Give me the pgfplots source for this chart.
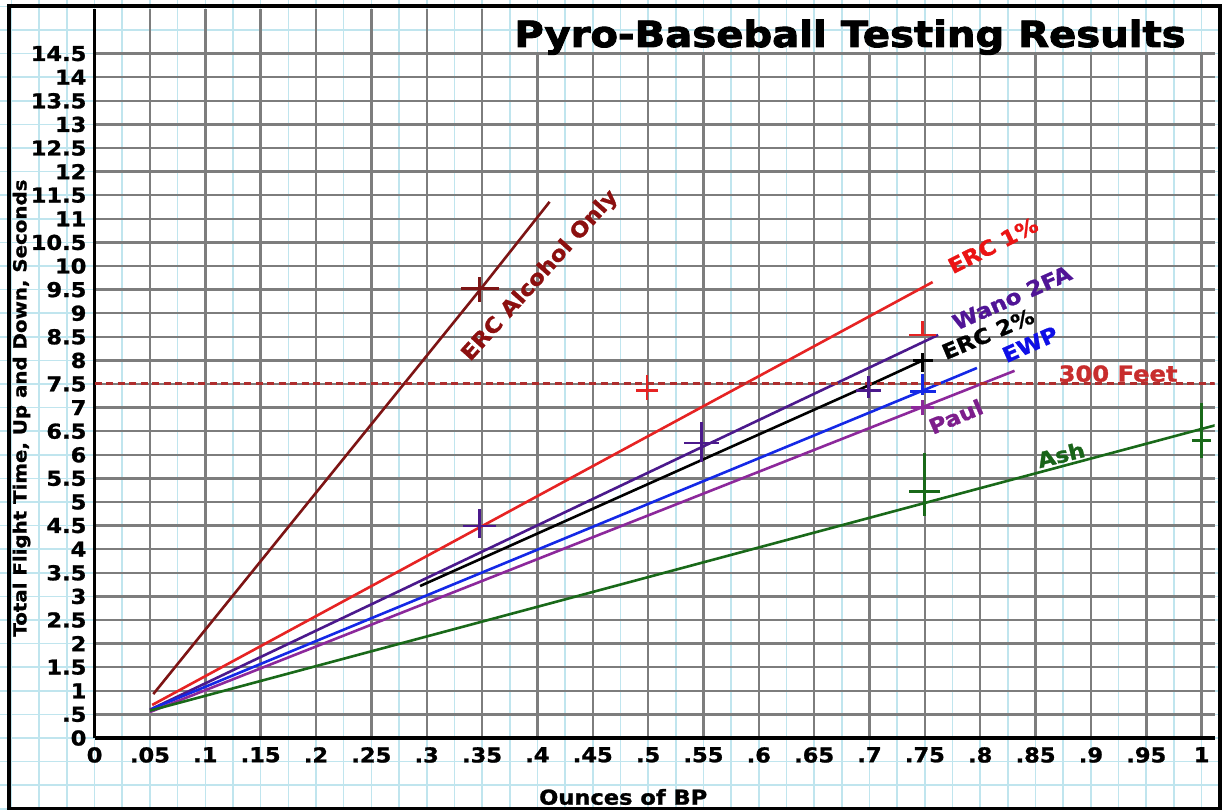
\documentclass[border=0pt]{standalone}
\usepackage{pgfplots}
\pgfplotsset{compat=1.18}
\usetikzlibrary{plotmarks}
\usepackage{fontspec}
\newfontfamily\wb{DejaVu Sans}[FakeStretch=1.1, FakeBold=1.2]
\newfontfamily\heavy{DejaVu Sans}[FakeStretch=1.115, FakeBold=2.6]
\newcommand\fs[1]{\fontsize{#1}{#1}\selectfont}
\definecolor{paper}{RGB}{192,229,238}
\definecolor{gridg}{RGB}{125,125,125}
\definecolor{alc}{RGB}{125,20,20}
\definecolor{alcT}{RGB}{140,15,15}
\definecolor{erc}{RGB}{230,35,35}
\definecolor{ercT}{RGB}{235,20,20}
\definecolor{wano}{RGB}{75,25,140}
\definecolor{wanoT}{RGB}{80,20,150}
\definecolor{ewp}{RGB}{20,40,230}
\definecolor{ewpT}{RGB}{15,15,230}
\definecolor{paul}{RGB}{140,40,155}
\definecolor{paulT}{RGB}{125,30,140}
\definecolor{ash}{RGB}{25,105,25}
\definecolor{ashT}{RGB}{25,100,25}
\definecolor{feet}{RGB}{175,45,45}
\definecolor{feetT}{RGB}{200,45,45}
\newcommand\papergrid{%
  \foreach \k in {-3,...,40} \draw[paper, line width=1.6pt] ({94.6pt+\k*27.675pt},0pt) -- ({94.6pt+\k*27.675pt},-810pt);
  \foreach \k in {-3,...,31} \draw[paper, line width=1.6pt] (0pt,{-738pt+\k*23.6pt}) -- (1222pt,{-738pt+\k*23.6pt});
}
% color, x, y(horizontal bar), half width, y(vertical bar), half height
\newcommand\pmark[6]{%
  \addplot[#1, only marks, mark=-, mark size=#4pt, mark options={line width=2.8pt}] coordinates {(#2,#3)};
  \addplot[#1, only marks, mark=|, mark size=#6pt, mark options={line width=2.8pt}] coordinates {(#2,#5)};
}
\begin{document}
\begin{tikzpicture}
\fill[white] (0,0) rectangle (1222pt,-810pt);
\papergrid
\begin{axis}[
  at={(94.6pt,-738pt)}, anchor=south west,
  scale only axis, width=1120pt, height=729.2pt,
  xmin=0, xmax=1.0117, ymin=0, ymax=15.45,
  axis lines=left,
  x axis line style={-}, y axis line style={-},
  axis line style={line width=3.5pt, black},
  xtick={0,0.05,0.1,0.15,0.2,0.25,0.3,0.35,0.4,0.45,0.5,0.55,0.6,0.65,0.7,0.75,0.8,0.85,0.9,0.95,1},
  xticklabels={0,.05,.1,.15,.2,.25,.3,.35,.4,.45,.5,.55,.6,.65,.7,.75,.8,.85,.9,.95,1},
  ytick={0,0.5,1,1.5,2,2.5,3,3.5,4,4.5,5,5.5,6,6.5,7,7.5,8,8.5,9,9.5,10,10.5,11,11.5,12,12.5,13,13.5,14,14.5},
  yticklabels={0,.5,1,1.5,2,2.5,3,3.5,4,4.5,5,5.5,6,6.5,7,7.5,8,8.5,9,9.5,10,10.5,11,11.5,12,12.5,13,13.5,14,14.5},
  /pgf/number format/assume math mode=true,
  ticklabel style={font=\wb\bfseries\fs{20.5}, black, inner sep=3pt},
  yticklabel style={xshift=-5pt},
  xticklabel style={yshift=-6pt},
  major tick length=0pt,
  grid=major,
  major grid style={line width=2.4pt, gridg},
  clip mode=individual,
]
% lines
\addplot[alc, line width=2.6pt] coordinates {(0.053,0.93) (0.35,9.55) (0.411,11.36)};
\addplot[erc, line width=2.6pt] coordinates {(0.052,0.70) (0.35,4.49) (0.757,9.66)};
\addplot[wano, line width=2.6pt] coordinates {(0.05,0.60) (0.55,6.18) (0.762,8.54)};
\addplot[ewp, line width=2.6pt] coordinates {(0.052,0.62) (0.75,7.38) (0.797,7.84)};
\addplot[paul, line width=2.6pt] coordinates {(0.05,0.55) (0.75,7.03) (0.831,7.78)};
\addplot[black, line width=2.6pt] coordinates {(0.294,3.22) (0.7,7.48) (0.748,8.0)};
\addplot[ash, line width=2.6pt] coordinates {(0.05,0.58) (0.75,4.98) (1.013,6.63)};
\addplot[feet, line width=3pt, dash pattern=on 7pt off 4.5pt] coordinates {(0,7.52) (1.0117,7.52)};
% marks
\pmark{alc}{0.348}{9.53}{19}{9.50}{12.5}
\pmark{wano}{0.348}{4.49}{16.5}{4.545}{14.5}
\pmark{erc}{0.499}{7.37}{11}{7.43}{12.5}
\pmark{wano}{0.548}{6.25}{17.5}{6.27}{20}
\pmark{wano}{0.699}{7.37}{12.5}{7.43}{11}
\pmark{erc}{0.748}{8.54}{13.5}{8.69}{7}
\pmark{black}{0.748}{7.99}{10}{7.96}{9.5}
\pmark{ewp}{0.748}{7.35}{13}{7.49}{10.5}
\pmark{paul}{0.748}{7.01}{11.5}{7.00}{7.5}
\pmark{ash}{0.750}{5.23}{15.5}{5.37}{31.5}
\pmark{ash}{1.0}{6.31}{9.5}{6.51}{27.5}
% labels
\node[font=\wb\bfseries\fs{21}, text=alcT, rotate=48, inner sep=0pt] at (axis cs:0.4025,9.79) {ERC Alcohol Only};
\node[font=\wb\bfseries\fs{21}, text=ercT, rotate=27, inner sep=0pt] at (axis cs:0.8116,10.44) {ERC 1\%};
\node[font=\wb\bfseries\fs{21}, text=wanoT, rotate=24, inner sep=0pt] at (axis cs:0.8287,9.33) {Wano 2FA};
\node[font=\wb\bfseries\fs{21}, text=black, rotate=23, inner sep=0pt] at (axis cs:0.807,8.56) {ERC 2\%};
\node[font=\wb\bfseries\fs{21}, text=ewpT, rotate=24, inner sep=0pt] at (axis cs:0.845,8.34) {EWP};
\node[font=\wb\bfseries\fs{22}, text=feetT, inner sep=0pt] at (axis cs:0.9245,7.72) {300 Feet};
\node[font=\wb\bfseries\fs{21}, text=paulT, rotate=23, inner sep=0pt] at (axis cs:0.778,6.81) {Paul};
\node[font=\wb\bfseries\fs{21}, text=ashT, rotate=14, inner sep=0pt] at (axis cs:0.873,6.0) {Ash};
\node[font=\wb\bfseries\fs{20.5}] at (axis cs:0.4775,-1.25) {Ounces of BP};
\node[font=\wb\bfseries\fs{18}, rotate=90] at (axis cs:-0.0660,6.99) {Total Flight Time, Up and Down, Seconds};
\end{axis}
\fill[white] (505pt,-9pt) rectangle (1216pt,-52pt);
\begin{scope}
\clip (505pt,-9pt) rectangle (1216pt,-52pt);
\papergrid
\end{scope}
\node[font=\heavy\bfseries\fs{36}, anchor=base, inner sep=0pt] at (850pt,-47pt) {Pyro-Baseball Testing Results};
\draw[black, line width=4pt] (8.5pt,-6.5pt) rectangle (1220pt,-808.5pt);
\pgfresetboundingbox
\path[use as bounding box] (0,0) rectangle (1222pt,-810pt);
\end{tikzpicture}
\end{document}
